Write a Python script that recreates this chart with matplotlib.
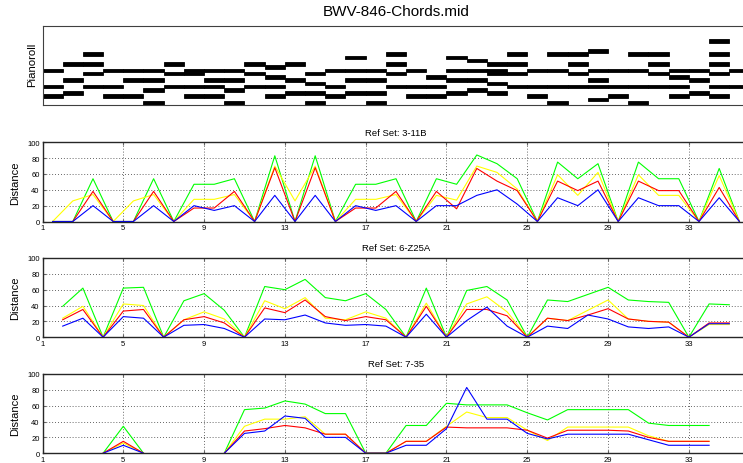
import numpy as np
import matplotlib.pyplot as plt

plt.rcParams['font.family'] = ['Liberation Sans', 'DejaVu Sans']

nan = np.nan
W, H = 743, 464

# chord pitches (MIDI numbers), one list per chord, chord i spans [i, i+1)
chords = [
    [58, 53, 50], [60, 55, 51], [63, 60, 57, 53], [58, 53, 50], [58, 55, 50],
    [58, 55, 52, 48], [60, 57, 53], [58, 57, 53, 50], [58, 55, 53, 50], [58, 55, 52, 48],
    [60, 57, 53], [59, 56, 53, 50], [60, 55, 51], [57, 54, 51, 48], [58, 53, 50],
    [62, 58, 55, 51], [58, 55, 51, 48], [63, 60, 57, 53], [58, 53, 50], [56, 53, 50],
    [62, 58, 55, 51], [61, 58, 55, 52], [60, 58, 57, 54, 51], [63, 60, 57, 53], [58, 53, 50],
    [63, 58, 53, 48], [63, 60, 57, 53], [64, 58, 55, 53, 49], [58, 53, 50], [63, 58, 53, 48],
    [63, 60, 57, 53], [58, 56, 53, 50], [58, 55, 51], [67, 63, 60, 57, 53, 50], [58, 53],
]

# distance curves, set 3-11B (plotted at chord centres)
x1 = np.arange(1, 36) + 0.5
green1 = [0, 0, 54, 0, 0, 54, 0, 47, 47, 54, 0, 83, 0, 83, 0, 47, 47, 54, 0, 54, 47, 84, 73, 54, 0, 75, 54, 73, 0, 75, 54, 54, 0, 67, 0]
yellow1 = [0, 26, 34, 0, 26, 34, 0, 28, 28, 34, 0, 70, 26, 70, 0, 28, 28, 34, 0, 33, 27, 70, 62, 41, 0, 59, 33, 62, 0, 59, 33, 33, 0, 58, 0]
red1 = [0, 0, 38, 0, 0, 38, 0, 17, 17, 38, 0, 68, 0, 68, 0, 17, 17, 38, 0, 38, 16, 67, 51, 39, 0, 51, 39, 51, 0, 51, 39, 39, 0, 43, 0]
blue1 = [0, 0, 20, 0, 0, 20, 0, 20, 14, 20, 0, 33, 0, 33, 0, 20, 14, 20, 0, 20, 20, 33, 40, 22, 0, 30, 20, 40, 0, 30, 20, 20, 0, 30, 0]

# set 6-Z25A
x2 = np.arange(1, 36)
green2 = [nan, 39, 62, 0, 62, 63, 0, 46, 55, 34, 0, 64, 60, 73, 50, 46, 55, 35, 0, 62, 0, 59, 64, 47, 0, 47, 45, 54, 63, 47, 45, 44, 0, 42, 41]
yellow2 = [nan, 24, 39, 0, 42, 40, 0, 22, 32, 23, 0, 46, 36, 50, 24, 22, 32, 24, 0, 43, 0, 42, 51, 32, 0, 24, 21, 34, 47, 23, 20, 19, 0, 16, 16]
red2 = [nan, 22, 35, 0, 33, 35, 0, 22, 26, 18, 0, 37, 31, 47, 26, 21, 26, 22, 0, 39, 0, 35, 35, 27, 0, 24, 21, 28, 36, 23, 20, 19, 0, 18, 18]
blue2 = [nan, 14, 24, 0, 26, 24, 0, 15, 16, 11, 0, 23, 22, 28, 18, 15, 16, 14, 0, 29, 0, 21, 38, 14, 0, 14, 11, 28, 23, 13, 11, 13, 0, 17, 17]

# set 7-35
x3 = np.arange(1, 36)
green3 = [nan, nan, nan, 0, 34, 0, nan, nan, nan, 0, 55, 57, 66, 62, 50, 50, 0, 0, 35, 35, 63, 61, 61, 61, 51, 42, 55, 55, 55, 55, 38, 35, 35, 35, nan]
yellow3 = [nan, nan, nan, 0, 13, 0, nan, nan, nan, 0, 34, 43, 43, 46, 24, 24, 0, 0, 15, 15, 34, 52, 45, 45, 29, 16, 33, 33, 33, 33, 22, 15, 15, 15, nan]
red3 = [nan, nan, nan, 0, 15, 0, nan, nan, nan, 0, 28, 31, 35, 32, 24, 24, 0, 0, 15, 15, 33, 32, 32, 32, 29, 19, 29, 29, 29, 28, 20, 15, 15, 15, nan]
blue3 = [nan, nan, nan, 0, 10, 0, nan, nan, nan, 0, 25, 28, 47, 44, 20, 20, 0, 0, 10, 10, 31, 83, 43, 43, 25, 18, 24, 24, 24, 24, 17, 10, 10, 10, nan]

panels = [
    ('Ref Set: 3-11B', x1, green1, yellow1, red1, blue1),
    ('Ref Set: 6-Z25A', x2, green2, yellow2, red2, blue2),
    ('Ref Set: 7-35', x3, green3, yellow3, red3, blue3),
]


def box(top, bottom, left=42.5, right=749.5):
    # pixel edges -> figure fractions (axes runs past the right edge)
    return [left / W, 1 - bottom / H, (right - left) / W, (bottom - top) / H]


fig = plt.figure(figsize=(W / 100, H / 100), dpi=100)

# pianoroll
ax0 = fig.add_axes(box(26.7, 106))
starts, pitches = [], []
for i, ch in enumerate(chords):
    for p in ch:
        starts.append(i + 1)
        pitches.append(p)
ax0.barh(pitches, width=1, left=starts, height=1.1, color='k', edgecolor='k', linewidth=0.6)
ax0.set_xlim(1, 36)
ax0.set_ylim(47.3, 71.8)
ax0.set_xticks([])
ax0.set_yticks([])
for s in ax0.spines.values():
    s.set_linewidth(0.8)
    s.set_color('0.25')
fig.text(396 / W, 1 - 12 / H, 'BWV-846-Chords.mid', ha='center', va='center', fontsize=11)
fig.text(32 / W, 1 - 65 / H, 'Pianoroll', rotation=90, ha='center', va='center', fontsize=8.2)

tops = [143.3, 259.0, 375.0]
for (title, x, g, y, r, b), top in zip(panels, tops):
    ax = fig.add_axes(box(top, top + 79.2))
    ax.plot(x, g, color='#00ff00', lw=0.8)
    ax.plot(x, y, color='#ffff00', lw=0.8)
    ax.plot(x, r, color='#ff0000', lw=0.8)
    ax.plot(x, b, color='#0000ff', lw=0.8)
    ax.set_xlim(1, 36)
    ax.set_ylim(0, 100)
    ax.set_xticks(np.arange(1, 36, 4))
    ax.set_yticks(np.arange(0, 101, 20))
    ax.grid(True, linestyle=(0, (1, 2.5)), color='0.2', linewidth=0.6)
    ax.tick_params(direction='in', length=2.5, width=0.8, color='0.4', labelsize=5.5, pad=2,
                   top=True, right=True)
    for s in ax.spines.values():
        s.set_linewidth(1.0)
        s.set_color('0.15')
    fig.text(396 / W, 1 - (top - 10) / H, title, ha='center', va='center', fontsize=6.8)
    fig.text(15.5 / W, 1 - (top + 39.6) / H, 'Distance', rotation=90,
             ha='center', va='center', fontsize=8)

fig.savefig('out.png', dpi=100)
